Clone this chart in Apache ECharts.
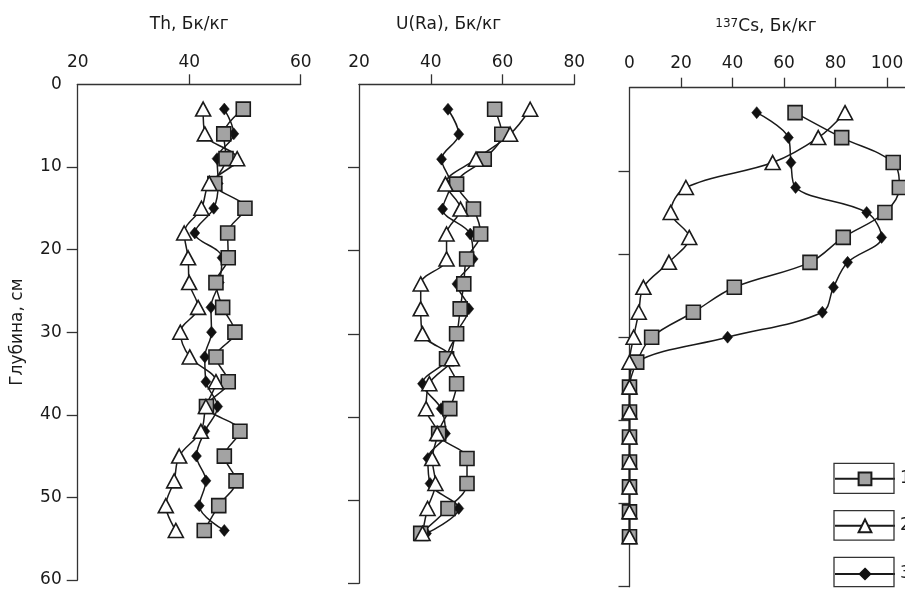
<!DOCTYPE html>
<html><head><meta charset="utf-8">
<script src="https://cdn.jsdelivr.net/npm/echarts@6/dist/echarts.min.js"></script>
<style>html,body{margin:0;padding:0;background:#fff}#c{width:905px;height:589px}</style>
</head><body><div id="c"></div>
<script>
// Depths (cm)
const depth = [3,6,9,12,15,18,21,24,27,30,33,36,39,42,45,48,51,54];

// Th, Bq/kg
const thS1 = [49.7,46.2,46.6,44.6,50.0,46.9,47.0,44.8,46.0,48.2,44.8,47.0,43.1,49.1,46.3,48.4,45.3,42.7];
const thS2 = [42.5,42.8,48.6,43.6,42.2,39.1,39.8,40.0,41.6,38.4,40.1,44.8,43.0,42.1,38.2,37.3,35.8,37.6];
const thS3 = [46.3,48.0,45.0,45.2,44.4,41.0,45.9,45.4,43.9,44.0,42.8,43.0,45.1,42.8,41.3,43.0,41.8,46.3];

// U(Ra), Bq/kg
const uS1 = [57.8,59.8,54.9,47.2,51.9,53.9,50.0,49.2,48.2,47.2,44.4,47.2,45.3,42.2,50.1,50.1,44.8,37.2];
const uS2 = [67.7,62.1,52.6,44.1,48.3,44.4,44.4,37.2,37.2,37.7,45.9,39.6,38.7,41.8,40.4,41.3,39.1,37.7];
const uS3 = [44.8,47.8,43.0,45.5,43.3,51.0,51.8,47.3,50.6,47.0,45.0,37.7,42.9,44.1,39.2,39.8,47.8,38.8];

// 137Cs, Bq/kg
const csS1 = [64.3,82.4,102.4,104.8,99.2,83.0,70.1,40.7,24.8,8.6,2.8,0,0,0,0,0,0,0];
const csS2 = [83.7,73.3,55.6,21.9,16.0,23.2,15.3,5.4,3.6,1.6,0,0,0,0,0,0,0,0];
const csS3 = [49.4,61.7,62.7,64.5,92.1,97.9,84.7,79.2,74.9,38.1,2.5,0,0,0,0,0,0,0];

// Tick labels
const depthTicks = [0,10,20,30,40,50,60];
const thTicks = [20,40,60];
const uTicks = [20,40,60,80];
const csTicks = [0,20,40,60,80,100,120];

const seriesNames = ['1','2','3'];
const titles = ['Th, Бк/кг', 'U(Ra), Бк/кг', '{sup|137}Cs, Бк/кг'];

const FONT = 'DejaVu Sans';
const AX = '#333';
const TXT = '#1a1a1a';

const grids = [
  {left: 77.7, top: 84.3, width: 223, height: 495.7, outerBoundsMode: 'none', containLabel: false},
  {left: 359, top: 84.3, width: 215.3, height: 499, outerBoundsMode: 'none', containLabel: false},
  {left: 629.5, top: 87.7, width: 309, height: 499, outerBoundsMode: 'none', containLabel: false}
];

const xTickSets = [thTicks, uTicks, csTicks];
const namePads = [[0,0,0,0],[0,36,0,0],[0,0,0,0]];
const nameGaps = [51, 51, 53];
const labelMargins = [13, 13, 16];

const xAxes = xTickSets.map((t, i) => ({
  type: 'value', gridIndex: i, position: 'top',
  min: t[0], max: t[t.length - 1], interval: 20,
  name: titles[i], nameLocation: i === 2 ? 'start' : 'middle', nameGap: nameGaps[i],
  nameTextStyle: {
    fontFamily: FONT, fontSize: 17, color: TXT, padding: namePads[i],
    rich: { sup: { fontFamily: FONT, fontSize: 12, color: TXT, verticalAlign: 'top', lineHeight: 17 } }
  },
  axisLine: {show: true, lineStyle: {color: AX, width: 1.3}},
  axisTick: {show: true, length: 10, inside: false, customValues: t.slice(1), lineStyle: {color: AX, width: 1.3}},
  axisLabel: {show: true, customValues: t, margin: labelMargins[i], fontFamily: FONT, fontSize: 17, color: TXT},
  splitLine: {show: false}
}));
// Cs title: centred over the visible part of its axis
xAxes[2].nameLocation = 'middle';
xAxes[2].nameTextStyle.padding = [0, 36, 0, 0];

const yAxes = [0,1,2].map(i => ({
  type: 'value', gridIndex: i, inverse: true, min: 0, max: 60, interval: 10,
  name: i === 0 ? 'Глубина, см' : '', nameLocation: 'middle', nameGap: 52,
  nameTextStyle: {fontFamily: FONT, fontSize: 17, color: TXT},
  axisLine: {show: true, lineStyle: {color: AX, width: 1.3}},
  axisTick: {show: true, length: 11, inside: false, customValues: depthTicks.slice(1), lineStyle: {color: AX, width: 1.3}},
  axisLabel: {show: i === 0, customValues: depthTicks, margin: 16, fontFamily: FONT, fontSize: 17, color: TXT},
  splitLine: {show: false}
}));

const styles = {
  '1': {symbol: 'rect', symbolSize: 14, itemStyle: {color: '#a3a3a3', borderColor: '#1a1a1a', borderWidth: 1.6}},
  '2': {symbol: 'triangle', symbolSize: [15, 14], itemStyle: {color: '#ffffff', borderColor: '#1a1a1a', borderWidth: 1.6}},
  '3': {symbol: 'diamond', symbolSize: [10, 12], itemStyle: {color: '#111111', borderColor: '#111111', borderWidth: 0.5}}
};

const panels = [
  {'1': thS1, '2': thS2, '3': thS3},
  {'1': uS1, '2': uS2, '3': uS3},
  {'1': csS1, '2': csS2, '3': csS3}
];

const series = [];
panels.forEach((p, gi) => {
  ['3','1','2'].forEach(name => {
    const st = styles[name];
    series.push({
      type: 'line', name: name, xAxisIndex: gi, yAxisIndex: gi,
      data: depth.map((d, k) => [p[name][k], d]),
      smooth: 0.35, symbol: st.symbol, symbolSize: st.symbolSize,
      showAllSymbol: true, clip: false,
      itemStyle: st.itemStyle,
      lineStyle: {color: '#1a1a1a', width: 1.5},
      emphasis: {disabled: true},
      z: 2
    });
  });
});

const legendCenters = [478.3, 525.3, 572];
const legendHeights = [16, 16, 13];
const legends = seriesNames.map((n, i) => ({
  data: [n], left: 834, top: legendCenters[i] - legendHeights[i] / 2,
  itemWidth: 60, itemHeight: legendHeights[i], padding: 0, selectedMode: false,
  textStyle: {fontFamily: FONT, fontSize: 17, color: TXT}
}));

const boxes = [[463.3, 30], [510.7, 29.5], [557.3, 29.4]].map(b => ({
  type: 'rect', shape: {x: 834, y: b[0], width: 60, height: b[1]},
  style: {fill: 'none', stroke: AX, lineWidth: 1.3}, z: 100
}));

const chart = echarts.init(document.getElementById('c'), null, {renderer: 'canvas'});
chart.setOption({
  animation: false,
  backgroundColor: '#ffffff',
  grid: grids,
  xAxis: xAxes,
  yAxis: yAxes,
  legend: legends,
  series: series,
  graphic: boxes
});
</script>
</body></html>
